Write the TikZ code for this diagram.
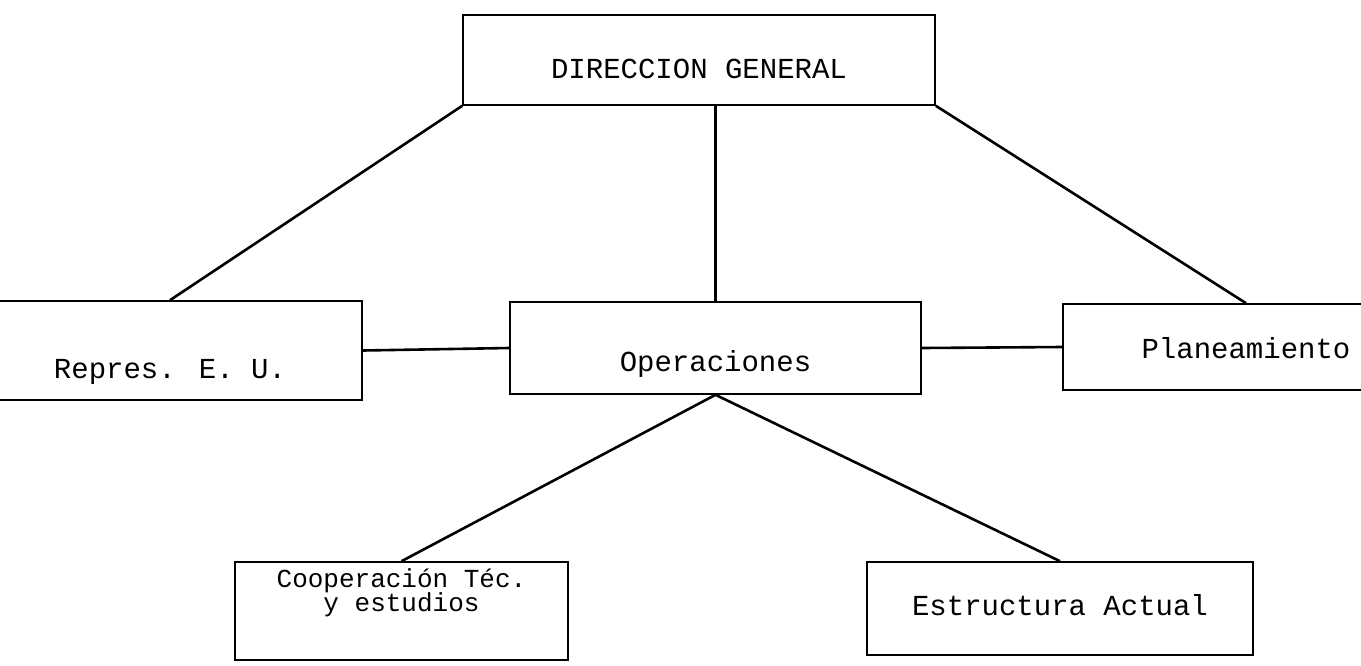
\documentclass[tikz,border=0pt]{standalone}
\usepackage{fontspec}
\newfontfamily\typewriter{Liberation Mono}
\begin{document}
\begin{tikzpicture}[
    x=0.5pt, y=-0.5pt,
    every node/.style={draw, line width=0.8pt, inner sep=0pt, text depth=0pt,
        font=\typewriter\fontsize{14.5}{12}\selectfont},
    link/.style={line width=1.3pt}
]
\useasboundingbox (0,0) rectangle (1361,665);

% Top level
\node[minimum width=236pt, minimum height=45pt, text height=18pt] (dir) at (699,60) {DIRECCION GENERAL};

% Second level
\node[minimum width=192pt, minimum height=49.5pt, text height=27.5pt] (rep) at (170,350.5) {Repres. E. U.};
\node[minimum width=205.5pt, minimum height=46pt, text height=23pt] (ope) at (715.5,348) {Operaciones};
\node[minimum width=183pt, minimum height=43pt, text height=11pt] (pla) at (1246,347) {Planeamiento};

% Third level
\node[minimum width=166.5pt, minimum height=49pt, align=center, text depth=21pt,
      font=\typewriter\fontsize{13}{11}\selectfont] (coo) at (401.5,611) {Cooperación Téc.\\[-1pt]y estudios};
\node[minimum width=193pt, minimum height=46.5pt, text height=6.5pt] (est) at (1060,608.5) {Estructura Actual};

% Connections
\draw[link] (dir.south west) -- (rep.north);
\draw[link] (ope.north |- dir.south) -- (ope.north);
\draw[link] (dir.south east) -- (pla.north);
\draw[link] (rep.east) -- (ope.west);
\draw[link] (ope.east) -- (pla.west);
\foreach \c in {coo,est}
    \draw[link] (ope.south) -- (\c.north);
\end{tikzpicture}
\end{document}
